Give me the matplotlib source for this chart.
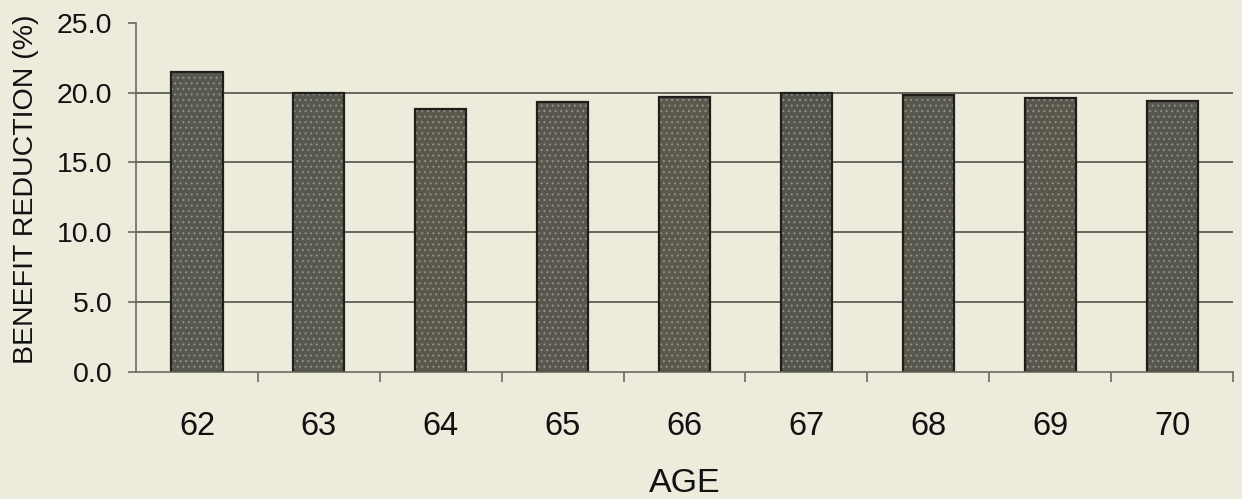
import numpy as np
import matplotlib.pyplot as plt

# benefit reduction by claiming age
ages = ['62', '63', '64', '65', '66', '67', '68', '69', '70']
reduction = [21.5, 20.0, 18.8, 19.3, 19.7, 20.0, 19.8, 19.6, 19.4]
yticks = [0, 5, 10, 15, 20, 25]

bar_colors = ['#56574e', '#57584e', '#5b574b', '#59574d', '#5b584c',
              '#53564c', '#57574d', '#59574c', '#57564d']
bg = '#edebdc'

plt.rcParams['font.family'] = ['Liberation Sans', 'DejaVu Sans']
plt.rcParams['hatch.linewidth'] = 0.8

fig = plt.figure(figsize=(12.42, 4.99), dpi=100, facecolor=bg)
ax = fig.add_axes([0.1095, 0.2545, 0.8833, 0.6998])
ax.set_facecolor(bg)

x = np.arange(len(ages))
# grainy fill, then a dark outline on top
ax.bar(x, reduction, width=0.42, color=bar_colors, hatch='...',
       edgecolor='#8e8f82', linewidth=0, zorder=3)
ax.bar(x, reduction, width=0.42, fill=False, edgecolor='#1e1e1a',
       linewidth=1.6, zorder=4)

ax.set_xlim(-0.5, len(ages) - 0.5)
ax.set_ylim(0, 25)
ax.set_yticks(yticks)
ax.set_yticklabels([f'{v:.1f}' for v in yticks], fontsize=20.5)
ax.set_xticks(x)
ax.set_xticklabels(ages, fontsize=23.5)
ax.set_xticks(np.arange(len(ages)) + 0.5, minor=True)

ax.tick_params(axis='x', which='major', length=0, pad=28, colors='#111111')
ax.tick_params(axis='x', which='minor', length=7, width=1.2,
               color='#6a6a60', direction='out')
ax.tick_params(axis='y', length=6, width=1.2, color='#6a6a60', pad=11,
               labelcolor='#111111')

for v in yticks[1:-1]:
    ax.axhline(v, color='#5e5e55', linewidth=1.3, zorder=1)

for s in ['top', 'right']:
    ax.spines[s].set_visible(False)
ax.spines['left'].set_color('#6a6a60')
ax.spines['left'].set_linewidth(1.2)
ax.spines['bottom'].set_color('#6a6a60')
ax.spines['bottom'].set_linewidth(1.2)
ax.spines['bottom'].set_zorder(5)

ax.set_xlabel('AGE', fontsize=24.5, labelpad=19, color='#111111')
ax.set_ylabel('BENEFIT REDUCTION (%)', fontsize=20.5, color='#111111')
ax.yaxis.set_label_coords(-0.088, 0.522)

fig.savefig('out.png', dpi=100, facecolor=bg)
